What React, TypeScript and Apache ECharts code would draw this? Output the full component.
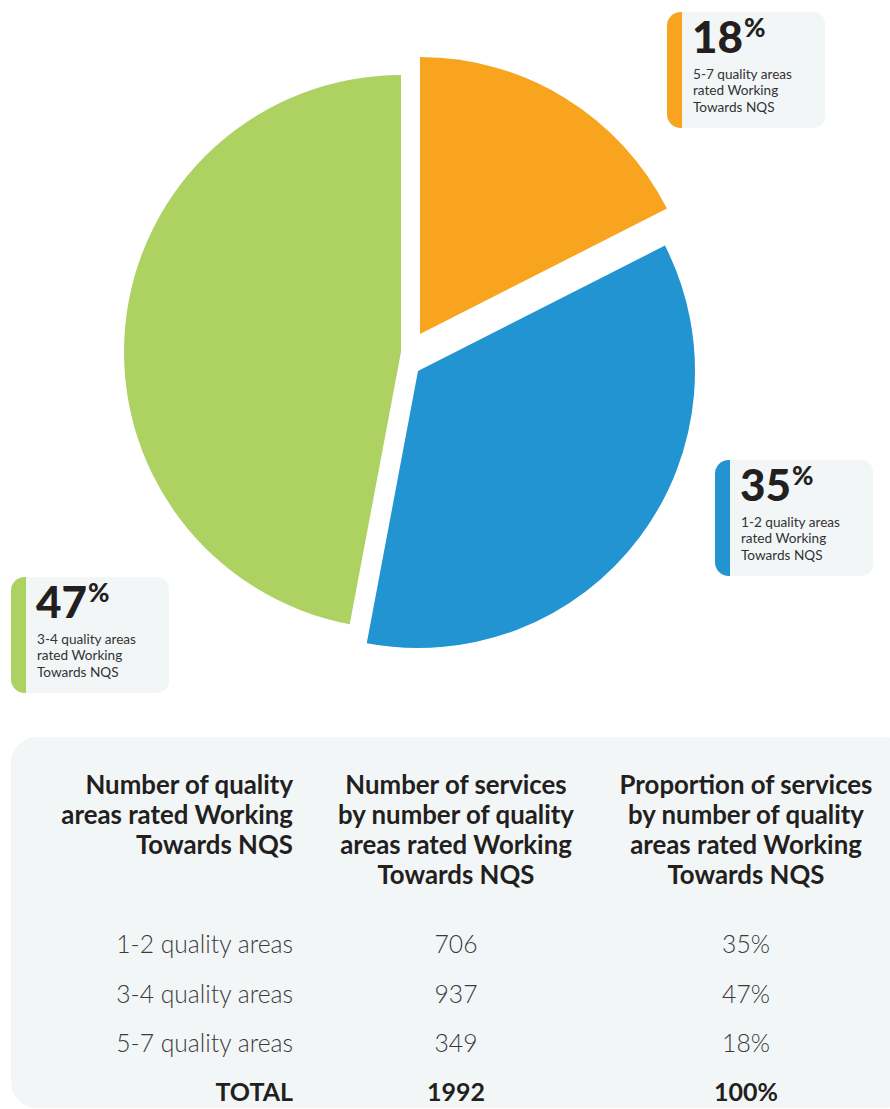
import React, { useEffect, useRef } from "react";
import * as echarts from "echarts";

// ---- Data ----
const groups = ["1-2 quality areas", "3-4 quality areas", "5-7 quality areas"];
const services = [706, 937, 349];
const proportions = [35, 47, 18];
const totalServices = 1992;
const totalProportion = "100%";
const groupColors = ["#2294D2", "#ADD262", "#F8A41F"];
// clockwise order of slices starting at 12 o'clock
const pieOrder = [2, 0, 1];
const headers = [
  "Number of quality\nareas rated Working\nTowards NQS",
  "Number of services\nby number of quality\nareas rated Working\nTowards NQS",
  "Proportion of services\nby number of quality\nareas rated Working\nTowards NQS",
];
const calloutSuffixLines = ["rated Working", "Towards NQS"];

const FONT = "Lato, 'Noto Sans', sans-serif";
const TEXT_DARK = "#231F20";
const PANEL = "#F3F6F7";

export default function App() {
  const ref = useRef<HTMLDivElement>(null);

  useEffect(() => {
    if (!ref.current) return;
    const chart = echarts.init(ref.current, null, { renderer: "svg" });

    // exploded slice centres (per slice, in clockwise order)
    const centers = [
      [420, 334],
      [418, 371],
      [401, 352],
    ];
    const series = pieOrder.map((gi, k) => ({
      type: "pie",
      center: centers[k],
      radius: 277,
      startAngle: 90,
      clockwise: true,
      silent: true,
      label: { show: false },
      labelLine: { show: false },
      emphasis: { disabled: true },
      data: pieOrder.map((gj, m) => ({
        name: groups[gj],
        value: services[gj],
        itemStyle: { color: groupColors[gj], opacity: m === k ? 1 : 0, borderWidth: 0 },
      })),
    }));

    // callout boxes (by group index)
    const boxPos: Record<number, [number, number]> = {
      2: [667, 12],
      0: [715, 460],
      1: [11, 577],
    };
    const graphics: any[] = [];
    [0, 1, 2].forEach((gi) => {
      const [bx, by] = boxPos[gi];
      const bw = 158;
      const bh = 116;
      graphics.push({
        type: "rect",
        shape: { x: bx, y: by, width: bw, height: bh, r: 12 },
        style: { fill: PANEL },
        silent: true,
      });
      graphics.push({
        type: "rect",
        shape: { x: bx, y: by, width: 15, height: bh, r: [14, 0, 0, 14] },
        style: { fill: groupColors[gi] },
        silent: true,
      });
      graphics.push({
        type: "text",
        x: bx + 25,
        y: by + 2,
        style: {
          text: `{n|${proportions[gi]}}{p|%}`,
          align: "left",
          verticalAlign: "top",
          rich: {
            n: { fontSize: 44, fontWeight: 900, fontFamily: FONT, fill: TEXT_DARK, lineHeight: 44 },
            p: {
              fontSize: 26,
              fontWeight: 900,
              fontFamily: FONT,
              fill: TEXT_DARK,
              lineHeight: 38,
              verticalAlign: "top",
              padding: [0, 0, 0, 1],
            },
          },
        },
        silent: true,
      });
      [groups[gi], ...calloutSuffixLines].forEach((line, li) => {
        graphics.push({
          type: "text",
          x: bx + 26,
          y: by + 62 + li * 16.4,
          style: {
            text: line,
            fontSize: 13.6,
            fontFamily: FONT,
            fill: "#333333",
            align: "left",
            verticalAlign: "middle",
          },
          silent: true,
        });
      });
    });

    // table panel
    graphics.push({
      type: "rect",
      shape: { x: 11, y: 737, width: 900, height: 371, r: 26 },
      style: { fill: PANEL },
      silent: true,
    });
    const colX = [293, 456, 746];
    const colAlign = ["right", "center", "center"];
    headers.forEach((h, i) => {
      graphics.push({
        type: "text",
        x: colX[i],
        y: 769,
        style: {
          text: h,
          fontSize: 25.8,
          fontWeight: "bold",
          fontFamily: FONT,
          fill: TEXT_DARK,
          lineHeight: 30,
          align: colAlign[i],
          verticalAlign: "top",
        },
        silent: true,
      });
    });
    const rowY = [943, 993, 1042];
    groups.forEach((g, r) => {
      const cells = [g, String(services[r]), `${proportions[r]}%`];
      cells.forEach((c, i) => {
        graphics.push({
          type: "text",
          x: colX[i],
          y: rowY[r],
          style: {
            text: c,
            fontSize: 24.7,
            fontWeight: 300,
            fontFamily: FONT,
            fill: "#3A3A3A",
            align: colAlign[i],
            verticalAlign: "middle",
          },
          silent: true,
        });
      });
    });
    ["TOTAL", String(totalServices), totalProportion].forEach((c, i) => {
      graphics.push({
        type: "text",
        x: colX[i],
        y: 1091,
        style: {
          text: c,
          fontSize: 25,
          fontWeight: "bold",
          fontFamily: FONT,
          fill: TEXT_DARK,
          align: colAlign[i],
          verticalAlign: "middle",
        },
        silent: true,
      });
    });

    chart.setOption({
      animation: false,
      backgroundColor: "#FFFFFF",
      series,
      graphic: { elements: graphics },
    });

    return () => chart.dispose();
  }, []);

  return (
    <div
      ref={ref}
      style={{ position: "absolute", left: 0, top: 0, width: 890, height: 1109 }}
    />
  );
}
